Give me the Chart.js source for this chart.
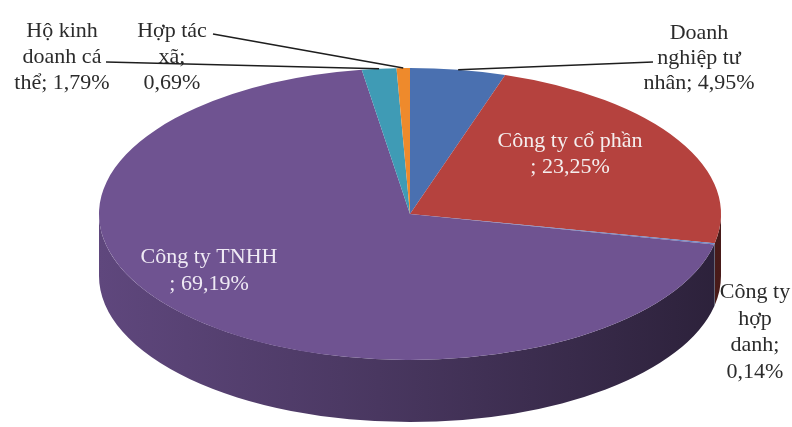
<!DOCTYPE html>
<html>
<head>
<meta charset="utf-8">
<script src="https://cdn.jsdelivr.net/npm/chart.js@4.4.1/dist/chart.umd.min.js"></script>
<style>
  html, body { margin: 0; padding: 0; background: #fff; }
  canvas { display: block; }
</style>
</head>
<body>
<canvas id="myChart" width="792" height="427"></canvas>
<script>
// Data: share of each business type (%)
const categories = ['Doanh nghiệp tư nhân', 'Công ty cổ phần', 'Công ty hợp danh', 'Công ty TNHH', 'Hộ kinh doanh cá thể', 'Hợp tác xã'];
const shares = [4.95, 23.25, 0.14, 69.19, 1.79, 0.69];

// how each label is wrapped, {v} is replaced by the value
const labelLines = [
  ['Doanh', 'nghiệp tư', 'nhân; {v}'],
  ['Công ty cổ phần', '; {v}'],
  ['Công ty', 'hợp', 'danh;', '{v}'],
  ['Công ty TNHH', '; {v}'],
  ['Hộ kinh', 'doanh cá', 'thể; {v}'],
  ['Hợp tác', 'xã;', '{v}']
];

const sliceColors = ['#4A70B0', '#B5423E', '#6A86C6', '#6F5391', '#3F9BB5', '#EE8A2C'];

// top face of the pie (ellipse) and thickness of the side
const PIE = { cx: 410, cy: 214, rx: 311, ry: 146, depth: 62 };

// label anchor = centre x / first baseline, leader = start point of the line
const labelPos = [
  { x: 699, y: 39, lh: 25, color: '#2b2b2b', leader: [653, 62] },
  { x: 570, y: 147, lh: 26, color: '#f4eeee', leader: null },
  { x: 755, y: 298, lh: 26.5, color: '#2b2b2b', leader: null },
  { x: 209, y: 263, lh: 27, color: '#efeaf4', leader: null },
  { x: 62, y: 37, lh: 26, color: '#2b2b2b', leader: [106, 62] },
  { x: 172, y: 37, lh: 26, color: '#2b2b2b', leader: [213, 34] }
];

function formatValue(v) {
  return v.toFixed(2).replace('.', ',') + '%';
}

function shade(hex, f) {
  const n = parseInt(hex.slice(1), 16);
  const r = Math.round(((n >> 16) & 255) * f);
  const g = Math.round(((n >> 8) & 255) * f);
  const b = Math.round((n & 255) * f);
  return 'rgb(' + r + ',' + g + ',' + b + ')';
}

// squashes the chart.js pie into an ellipse and draws the side walls under it
const pie3d = {
  id: 'pie3d',
  beforeDatasetsDraw(chart) {
    const ctx = chart.ctx;
    const arcs = chart.getDatasetMeta(0).data;
    const first = arcs[0];

    // side walls: only the front half (canvas angles 0..PI) can be seen
    arcs.forEach(function(arc, i) {
      const a = Math.max(arc.startAngle, 0);
      const b = Math.min(arc.endAngle, Math.PI);
      if (b <= a) return;
      const grad = ctx.createLinearGradient(PIE.cx - PIE.rx, 0, PIE.cx + PIE.rx, 0);
      grad.addColorStop(0, shade(sliceColors[i], 0.86));
      grad.addColorStop(0.45, shade(sliceColors[i], 0.66));
      grad.addColorStop(1, shade(sliceColors[i], 0.4));
      ctx.save();
      ctx.beginPath();
      ctx.ellipse(PIE.cx, PIE.cy, PIE.rx, PIE.ry, 0, a, b);
      ctx.lineTo(PIE.cx + PIE.rx * Math.cos(b), PIE.cy + PIE.ry * Math.sin(b) + PIE.depth);
      ctx.ellipse(PIE.cx, PIE.cy + PIE.depth, PIE.rx, PIE.ry, 0, b, a, true);
      ctx.closePath();
      ctx.fillStyle = grad;
      ctx.fill();
      ctx.restore();
    });

    ctx.save();
    ctx.translate(PIE.cx, PIE.cy);
    ctx.scale(PIE.rx / first.outerRadius, PIE.ry / first.outerRadius);
    ctx.translate(-first.x, -first.y);
  },
  afterDatasetsDraw(chart) {
    const ctx = chart.ctx;
    ctx.restore();

    const arcs = chart.getDatasetMeta(0).data;
    ctx.save();
    ctx.font = '22px "Liberation Serif", "Times New Roman", serif';
    ctx.textAlign = 'center';
    ctx.textBaseline = 'alphabetic';
    labelLines.forEach(function(lines, i) {
      const p = labelPos[i];
      ctx.fillStyle = p.color;
      lines.forEach(function(line, k) {
        ctx.fillText(line.replace('{v}', formatValue(shares[i])), p.x, p.y + k * p.lh);
      });
    });

    // leader lines go to the middle of the slice on the rim
    ctx.strokeStyle = '#1e1e1e';
    ctx.lineWidth = 1.6;
    labelPos.forEach(function(p, i) {
      if (!p.leader) return;
      const arc = arcs[i];
      const m = (arc.startAngle + arc.endAngle) / 2;
      ctx.beginPath();
      ctx.moveTo(p.leader[0], p.leader[1]);
      ctx.lineTo(PIE.cx + PIE.rx * Math.cos(m), PIE.cy + PIE.ry * Math.sin(m));
      ctx.stroke();
    });
    ctx.restore();
  }
};

const ctx = document.getElementById('myChart').getContext('2d');

new Chart(ctx, {
  type: 'pie',
  data: {
    labels: categories,
    datasets: [{
      data: shares,
      backgroundColor: sliceColors,
      borderWidth: 0
    }]
  },
  options: {
    responsive: false,
    devicePixelRatio: 1,
    animation: false,
    plugins: {
      legend: { display: false },
      tooltip: { enabled: false }
    }
  },
  plugins: [pie3d]
});
</script>
</body>
</html>
